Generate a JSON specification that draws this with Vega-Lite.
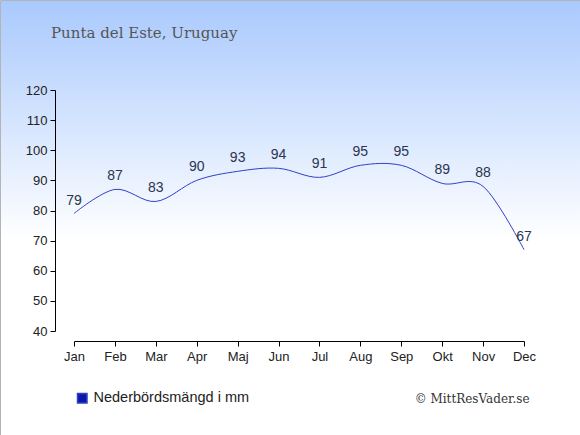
{
  "$schema": "https://vega.github.io/schema/vega-lite/v6.json",
  "width": 580,
  "height": 435,
  "autosize": "none",
  "padding": 0,
  "background": "#ffffff",
  "config": {
    "view": {
      "fill": {
        "gradient": "linear",
        "x1": 0, "y1": 0, "x2": 0, "y2": 1,
        "stops": [
          {"offset": 0, "color": "#a9c9fd"},
          {"offset": 0.55, "color": "#ffffff"},
          {"offset": 1, "color": "#ffffff"}
        ]
      },
      "stroke": "#b4b4b4",
      "strokeWidth": 1
    },
    "axis": {
      "labelFont": "Liberation Sans",
      "labelFontSize": 13,
      "labelColor": "#222222",
      "domainColor": "#000000",
      "tickColor": "#000000",
      "grid": false,
      "tickSize": 5
    }
  },
  "title": {
    "text": "Punta del Este, Uruguay",
    "font": "DejaVu Serif",
    "fontSize": 15,
    "fontWeight": "normal",
    "color": "#555555",
    "anchor": "start",
    "frame": "group",
    "offset": -41,
    "dx": 51
  },
  "data": {
    "values": [
      {"month": "Jan", "mm": 79, "series": "Nederbördsmängd i mm"},
      {"month": "Feb", "mm": 87, "series": "Nederbördsmängd i mm"},
      {"month": "Mar", "mm": 83, "series": "Nederbördsmängd i mm"},
      {"month": "Apr", "mm": 90, "series": "Nederbördsmängd i mm"},
      {"month": "Maj", "mm": 93, "series": "Nederbördsmängd i mm"},
      {"month": "Jun", "mm": 94, "series": "Nederbördsmängd i mm"},
      {"month": "Jul", "mm": 91, "series": "Nederbördsmängd i mm"},
      {"month": "Aug", "mm": 95, "series": "Nederbördsmängd i mm"},
      {"month": "Sep", "mm": 95, "series": "Nederbördsmängd i mm"},
      {"month": "Okt", "mm": 89, "series": "Nederbördsmängd i mm"},
      {"month": "Nov", "mm": 88, "series": "Nederbördsmängd i mm"},
      {"month": "Dec", "mm": 67, "series": "Nederbördsmängd i mm"}
    ]
  },
  "encoding": {
    "x": {
      "field": "month",
      "type": "ordinal",
      "sort": null,
      "scale": {"type": "point", "range": [74, 524], "padding": 0},
      "axis": {
        "labelAngle": 0,
        "offset": -94,
        "labelPadding": 4,
        "title": "© MittResVader.se",
        "titleFont": "DejaVu Serif",
        "titleFontSize": 12,
        "titleFontWeight": "normal",
        "titleColor": "#333333",
        "titleAnchor": "end",
        "titleAlign": "right",
        "titleX": 529,
        "titleY": 57,
        "titleBaseline": "middle"
      }
    },
    "y": {
      "field": "mm",
      "type": "quantitative",
      "scale": {"domain": [40, 120], "range": [331, 90], "nice": false, "zero": false},
      "axis": {
        "values": [40, 50, 60, 70, 80, 90, 100, 110, 120],
        "offset": -55,
        "labelPadding": 3,
        "title": null
      }
    }
  },
  "layer": [
    {
      "mark": {"type": "line", "interpolate": "cardinal", "strokeWidth": 1},
      "encoding": {
        "color": {
          "field": "series",
          "type": "nominal",
          "scale": {"range": ["#3040c8"]},
          "legend": {
            "title": null,
            "orient": "none",
            "legendX": 75,
            "legendY": 391,
            "symbolType": "square",
            "symbolFillColor": "#0a1aa8",
            "symbolStrokeColor": "#0a1aa8",
            "symbolSize": 90,
            "labelFont": "Liberation Sans",
            "labelFontSize": 14.5,
            "labelColor": "#222222"
          }
        }
      }
    },
    {
      "mark": {
        "type": "text",
        "dy": -13,
        "font": "Liberation Sans",
        "fontSize": 14,
        "color": "#2a3550"
      },
      "encoding": {"text": {"field": "mm", "type": "quantitative"}}
    }
  ]
}
